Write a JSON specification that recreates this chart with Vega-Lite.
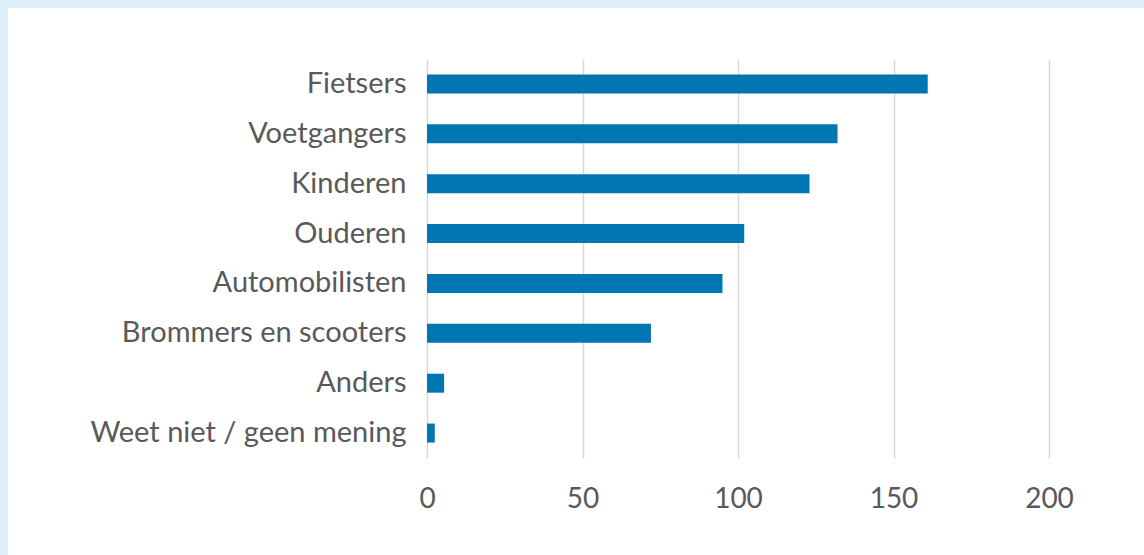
{
  "$schema": "https://vega.github.io/schema/vega-lite/v6.json",
  "padding": 0,
  "background": "white",
  "spacing": 0,
  "config": {"view": {"stroke": null}, "font": "Lato"},
  "hconcat": [
    {
      "width": 8,
      "height": 555,
      "view": {"fill": "#DDEEF9", "stroke": null},
      "data": {"values": [{"k": 1}]},
      "mark": {"type": "point", "opacity": 0},
      "encoding": {}
    },
    {
      "spacing": 51,
      "vconcat": [
        {
          "width": 1136,
          "height": 8,
          "view": {"fill": "#DDEEF9", "stroke": null},
          "data": {"values": [{"k": 1}]},
          "mark": {"type": "point", "opacity": 0},
          "encoding": {}
        },
        {
          "width": 1041,
          "height": 399,
          "view": {"stroke": null},
          "data": {
            "values": [
              {"groep": "Fietsers", "aantal": 161},
              {"groep": "Voetgangers", "aantal": 132},
              {"groep": "Kinderen", "aantal": 123},
              {"groep": "Ouderen", "aantal": 102},
              {"groep": "Automobilisten", "aantal": 95},
              {"groep": "Brommers en scooters", "aantal": 72},
              {"groep": "Anders", "aantal": 5.5},
              {"groep": "Weet niet / geen mening", "aantal": 2.5}
            ]
          },
          "mark": {"type": "bar", "color": "#0076B3"},
          "encoding": {
            "y": {
              "field": "groep",
              "type": "nominal",
              "sort": null,
              "scale": {"paddingInner": 0.62, "paddingOuter": 0.31},
              "axis": {
                "title": null,
                "ticks": false,
                "tickSize": 0,
                "domain": false,
                "grid": false,
                "offset": -419,
                "labelFont": "Lato",
                "labelFontSize": 29,
                "labelColor": "#595959",
                "labelPadding": 21,
                "labelLimit": 0
              }
            },
            "x": {
              "field": "aantal",
              "type": "quantitative",
              "scale": {"domain": [0, 200], "nice": false, "range": [419, 1041]},
              "axis": {
                "title": null,
                "values": [0, 50, 100, 150, 200],
                "ticks": false,
                "tickSize": 0,
                "domain": false,
                "grid": true,
                "gridColor": "#D9D9D9",
                "gridWidth": 1.5,
                "labelFlush": false,
                "labelFont": "Lato",
                "labelFontSize": 28,
                "labelColor": "#595959",
                "labelPadding": 27
              }
            }
          }
        }
      ]
    }
  ]
}
